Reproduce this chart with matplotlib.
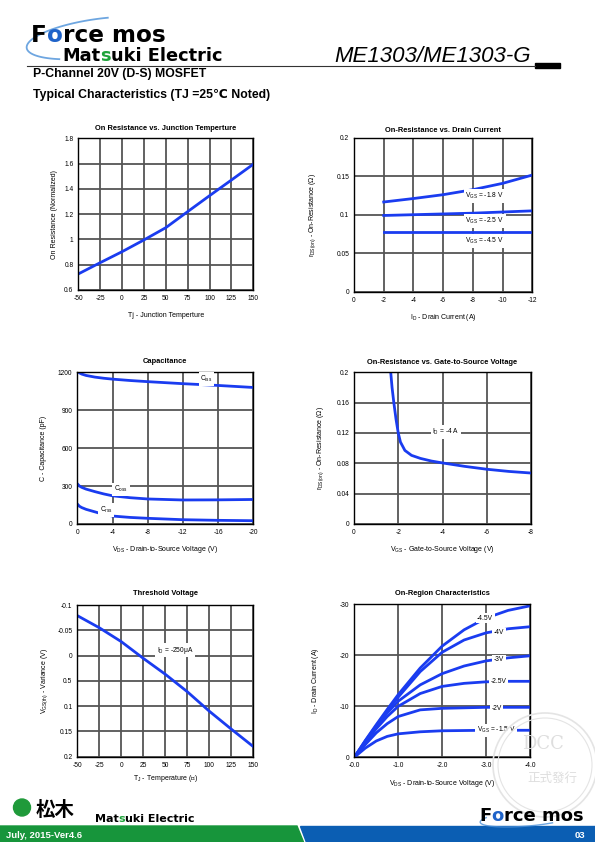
import numpy as np
import matplotlib
matplotlib.use('Agg')
import matplotlib.pyplot as plt
from matplotlib.patches import Polygon, Circle, Rectangle

plt.rcParams['font.family'] = ['Liberation Sans', 'DejaVu Sans', 'Noto Sans CJK JP']
plt.rcParams['mathtext.fontset'] = 'custom'
plt.rcParams['mathtext.rm'] = 'Liberation Sans'
plt.rcParams['mathtext.it'] = 'Liberation Sans:italic'
plt.rcParams['mathtext.bf'] = 'Liberation Sans:bold'
plt.rcParams['mathtext.default'] = 'rm'

W, H = 595, 842
BLUE = '#1a3cf0'

# --- data ---
# On resistance vs junction temperature
tj = [-50, -25, 0, 25, 50, 75, 100, 125, 150]
ron_norm = [0.727, 0.816, 0.903, 0.996, 1.093, 1.22, 1.346, 1.47, 1.595]

# On-resistance vs drain current
id_a = [-2, -4, -6, -8, -10, -12]
rds_18 = [0.1165, 0.121, 0.126, 0.1325, 0.1407, 0.1515]
rds_25 = [0.099, 0.100, 0.101, 0.102, 0.1035, 0.105]
rds_45 = [0.078, 0.078, 0.078, 0.078, 0.078, 0.078]

# Capacitance
vds_c = [0, -0.25, -0.5, -1, -2, -3, -4, -6, -8, -12, -16, -20]
ciss = [1210, 1195, 1186, 1175, 1162, 1153, 1146, 1135, 1126, 1110, 1096, 1080]
coss = [318, 300, 290, 276, 256, 238, 223, 208, 198, 190, 191, 194]
crss = [158, 140, 130, 116, 96, 76, 63, 52, 45, 34, 29, 26]

# On-resistance vs gate-to-source voltage
vgs = [-1.66, -1.72, -1.8, -1.9, -2.0, -2.1, -2.3, -2.6, -3.0, -3.5, -4, -5, -6, -7, -8]
rds_vgs = [0.2, 0.18, 0.16, 0.138, 0.12, 0.108, 0.097, 0.0905, 0.0865, 0.083, 0.0805,
           0.076, 0.0722, 0.0693, 0.0672]

# Threshold voltage
vth_var = [-0.079, -0.055, -0.0275, 0.0055, 0.037, 0.0715, 0.11, 0.1455, 0.18]

# On-region characteristics
vds6 = [0, -0.25, -0.5, -0.75, -1, -1.5, -2, -2.5, -3, -3.5, -4]
id_15 = [0, -1.8, -3.2, -4.1, -4.6, -5.0, -5.2, -5.25, -5.3, -5.3, -5.3]
id_2 = [0, -2.5, -4.8, -6.6, -8.0, -9.3, -9.6, -9.7, -9.8, -9.8, -9.8]
id_25 = [0, -2.9, -5.6, -8.0, -10.0, -12.5, -13.9, -14.5, -14.8, -14.9, -14.9]
id_3 = [0, -3.1, -6.0, -8.7, -11.0, -14.2, -16.4, -17.9, -18.9, -19.5, -19.9]
id_4 = [0, -3.2, -6.2, -9.1, -11.8, -16.8, -20.6, -23.0, -24.4, -25.2, -25.6]
id_45 = [0, -3.3, -6.4, -9.4, -12.3, -17.5, -21.8, -25.0, -27.3, -28.8, -29.7]

t_ticks = [-50, -25, 0, 25, 50, 75, 100, 125, 150]


def box(x0, y0, x1, y1):
    return [x0 / W, 1 - y1 / H, (x1 - x0) / W, (y1 - y0) / H]


def style(ax, title, xlabel, ylabel, ty, xl, yl):
    ax.grid(True, color='#555555', lw=1.3)
    ax.set_axisbelow(True)
    ax.tick_params(length=0, labelsize=4.8, pad=3.5)
    for s in ax.spines.values():
        s.set_color('black')
        s.set_linewidth(1.0)
    ax.text(0.5, ty, title, transform=ax.transAxes, ha='center', va='center',
            fontsize=5.4, fontweight='bold')
    ax.set_xlabel(xlabel, fontsize=5)
    ax.set_ylabel(ylabel, fontsize=5)
    ax.xaxis.label.set_va('center')
    ax.yaxis.label.set_va('center')
    ax.xaxis.set_label_coords(0.5, xl)
    ax.yaxis.set_label_coords(yl, 0.5)


def tag(ax, x, y, s, size=4.8):
    ax.text(x, y, s, fontsize=size, ha='center', va='center', zorder=5,
            bbox=dict(boxstyle='square,pad=0.25', fc='white', ec='none'))


fig = plt.figure(figsize=(W / 100, H / 100), dpi=100)

# 1. On Resistance vs. Junction Temperture
ax1 = fig.add_axes(box(78.3, 138.3, 253.3, 290))
ax1.plot(tj, ron_norm, color=BLUE, lw=2)
ax1.set_xlim(-50, 150)
ax1.set_ylim(0.6, 1.8)
ax1.set_xticks(t_ticks)
ax1.set_xticklabels([str(v) for v in t_ticks])
ax1.set_yticks([0.6, 0.8, 1.0, 1.2, 1.4, 1.6, 1.8])
ax1.set_yticklabels(['0.6', '0.8', '1', '1.2', '1.4', '1.6', '1.8'])
style(ax1, 'On Resistance vs. Junction Temperture', 'Tj - Junction Temperture',
      'On Resistance (Normalized)', 1.066, -0.165, -0.137)

# 2. On-Resistance vs. Drain Current
ax2 = fig.add_axes(box(354, 137.7, 532.3, 291.7))
ax2.plot(id_a, rds_18, color=BLUE, lw=2)
ax2.plot(id_a, rds_25, color=BLUE, lw=2)
ax2.plot(id_a, rds_45, color=BLUE, lw=2)
ax2.set_xlim(0, -12)
ax2.set_ylim(0, 0.2)
ax2.set_xticks([0, -2, -4, -6, -8, -10, -12])
ax2.set_xticklabels(['0', '-2', '-4', '-6', '-8', '-10', '-12'])
ax2.set_yticks([0, 0.05, 0.1, 0.15, 0.2])
ax2.set_yticklabels(['0', '0.05', '0.1', '0.15', '0.2'])
tag(ax2, -8.8, 0.124, 'V$_{GS}$ = -1.8 V')
tag(ax2, -8.8, 0.0918, 'V$_{GS}$ = -2.5 V')
tag(ax2, -8.8, 0.0658, 'V$_{GS}$ = -4.5 V')
style(ax2, 'On-Resistance vs. Drain Current', 'I$_D$ - Drain Current (A)',
      'r$_{DS(on)}$ - On-Resistance (Ω)', 1.05, -0.165, -0.23)

# 3. Capacitance
ax3 = fig.add_axes(box(77.3, 372.3, 253.3, 524))
ax3.plot(vds_c, ciss, color=BLUE, lw=2)
ax3.plot(vds_c, coss, color=BLUE, lw=2)
ax3.plot(vds_c, crss, color=BLUE, lw=2)
ax3.set_xlim(0, -20)
ax3.set_ylim(0, 1200)
ax3.set_xticks([0, -4, -8, -12, -16, -20])
ax3.set_xticklabels(['0', '-4', '-8', '-12', '-16', '-20'])
ax3.set_yticks([0, 300, 600, 900, 1200])
tag(ax3, -14.7, 1148, 'C$_{iss}$')
tag(ax3, -4.96, 274, 'C$_{oss}$')
tag(ax3, -3.26, 111, 'C$_{rss}$')
style(ax3, 'Capacitance', 'V$_{DS}$ - Drain-to-Source Voltage (V)',
      'C - Capacitance (pF)', 1.07, -0.165, -0.19)

# 4. On-Resistance vs. Gate-to-Source Voltage
ax4 = fig.add_axes(box(354, 372.3, 531, 524))
ax4.plot(vgs, rds_vgs, color=BLUE, lw=2)
ax4.set_xlim(0, -8)
ax4.set_ylim(0, 0.2)
ax4.set_xticks([0, -2, -4, -6, -8])
ax4.set_xticklabels(['0', '-2', '-4', '-6', '-8'])
ax4.set_yticks([0, 0.04, 0.08, 0.12, 0.16, 0.2])
ax4.set_yticklabels(['0', '0.04', '0.08', '0.12', '0.16', '0.2'])
tag(ax4, -4.16, 0.1213, 'I$_D$ = -4 A')
style(ax4, 'On-Resistance vs. Gate-to-Source Voltage',
      'V$_{GS}$ - Gate-to-Source Voltage (V)', 'r$_{DS(on)}$ - On-Resistance (Ω)',
      1.066, -0.165, -0.19)

# 5. Threshold Voltage
ax5 = fig.add_axes(box(77.3, 605, 253.3, 756.7))
ax5.plot(tj, vth_var, color=BLUE, lw=2)
ax5.set_xlim(-50, 150)
ax5.set_ylim(0.2, -0.1)
ax5.set_xticks(t_ticks)
ax5.set_xticklabels([str(v) for v in t_ticks])
ax5.set_yticks([-0.1, -0.05, 0, 0.05, 0.1, 0.15, 0.2])
ax5.set_yticklabels(['-0.1', '-0.05', '0', '0.5', '0.1', '0.15', '0.2'])
tag(ax5, 61, -0.011, 'I$_D$ = -250μA')
style(ax5, 'Threshold Voltage', 'T$_J$ - Temperature (℃)',
      'V$_{GS(th)}$ - Variance (V)', 1.077, -0.145, -0.185)

# 6. On-Region Characteristics
ax6 = fig.add_axes(box(354.3, 604.3, 530, 757.3))
for curve in [id_15, id_2, id_25, id_3, id_4, id_45]:
    ax6.plot(vds6, curve, color=BLUE, lw=2)
ax6.set_xlim(0, -4)
ax6.set_ylim(0, -30)
ax6.set_xticks([0, -1, -2, -3, -4])
ax6.set_xticklabels(['-0.0', '-1.0', '-2.0', '-3.0', '-4.0'])
ax6.set_yticks([0, -10, -20, -30])
ax6.set_yticklabels(['0', '-10', '-20', '-30'])
tag(ax6, -3.23, -5.3, 'V$_{GS}$ = -1.5 V')
tag(ax6, -3.24, -9.6, '-2V')
tag(ax6, -3.28, -14.8, '-2.5V')
tag(ax6, -3.3, -19.1, '-3V')
tag(ax6, -3.3, -24.4, '-4V')
tag(ax6, -2.98, -27.3, '-4.5V')
style(ax6, 'On-Region Characteristics', 'V$_{DS}$ - Drain-to-Source Voltage (V)',
      'I$_D$ - Drain Current (A)', 1.072, -0.17, -0.22)

# --- page decoration (pixel coordinates) ---
ov = fig.add_axes([0, 0, 1, 1], zorder=10)
ov.set_xlim(0, W)
ov.set_ylim(H, 0)
ov.axis('off')
ov.patch.set_alpha(0)
renderer = fig.canvas.get_renderer()


def seg(x, y, parts, **kw):
    for s, c in parts:
        t = ov.text(x, y, s, color=c, va='baseline', **kw)
        x += t.get_window_extent(renderer=renderer).width


def swoosh(cx, cy, a, b, rot, t0, t1, lw):
    t = np.radians(np.linspace(t0, t1, 80))
    r = np.radians(rot)
    xs = a * np.cos(t)
    ys = b * np.sin(t)
    ov.plot(cx + xs * np.cos(r) - ys * np.sin(r), cy - (xs * np.sin(r) + ys * np.cos(r)),
            color='#4a90d9', lw=lw, alpha=0.8)


# header
swoosh(98, 38, 72, 19, 8, 80, 235, 1.3)
seg(31, 42, [('F', 'black'), ('o', '#1f63c9'), ('rce mos', 'black')],
    fontsize=16.7, fontweight='bold', family='DejaVu Sans')
seg(62, 61, [('Mat', 'black'), ('s', '#1fa33a'), ('uki Electric', 'black')],
    fontsize=12.8, fontweight='bold', family='DejaVu Sans')
ov.text(531, 61.5, 'ME1303/ME1303-G', ha='right', va='baseline', fontsize=16,
        style='italic', family='Liberation Sans')
ov.plot([27, 535], [65.5, 65.5], color='#333333', lw=0.8)
ov.add_patch(Rectangle((535, 62.5), 25, 5.5, color='black'))
ov.text(33, 77.5, 'P-Channel 20V (D-S) MOSFET', fontsize=8.8, fontweight='bold',
        va='baseline')
ov.text(33, 98, 'Typical Characteristics (TJ =25℃ Noted)', fontsize=8.8,
        fontweight='bold', va='baseline')

# watermark stamp
ov.add_patch(Circle((545, 765), 52, fill=False, ec='#e4e4e4', lw=1.2))
ov.add_patch(Circle((545, 765), 47, fill=False, ec='#e4e4e4', lw=0.8))
ov.text(543, 744, 'DCC', ha='center', va='center', fontsize=13, color='#dedede',
        family='DejaVu Serif')
ov.text(552, 778, '正式發行', ha='center', va='center', fontsize=9, color='#dedede',
        family='Noto Sans CJK TC')

# footer
ov.add_patch(Polygon([(0, 826), (297, 826), (303.5, 842), (0, 842)], color='#17953b'))
ov.add_patch(Polygon([(299.5, 826), (595, 826), (595, 842), (306, 842)], color='#0b5eb3'))
ov.text(6, 838, 'July, 2015-Ver4.6', color='white', fontsize=6.8, fontweight='bold',
        va='baseline')
ov.text(585, 838, '03', color='white', fontsize=6.8, fontweight='bold', ha='right',
        va='baseline')
ov.add_patch(Circle((22, 807.5), 8.5, color='#1f9a3a'))
ov.text(36, 816, '松木', fontsize=14, fontweight='bold', family='Noto Sans CJK JP',
        va='baseline')
seg(95, 822.5, [('Mat', 'black'), ('s', '#1fa33a'), ('uki Electric', 'black')],
    fontsize=8, fontweight='bold', family='DejaVu Sans')
swoosh(528, 818, 48, 8, 5, 150, 300, 1.0)
seg(479, 821, [('F', 'black'), ('o', '#1f63c9'), ('rce mos', 'black')],
    fontsize=13, fontweight='bold', family='DejaVu Sans')

fig.savefig('out.png', dpi=100)
